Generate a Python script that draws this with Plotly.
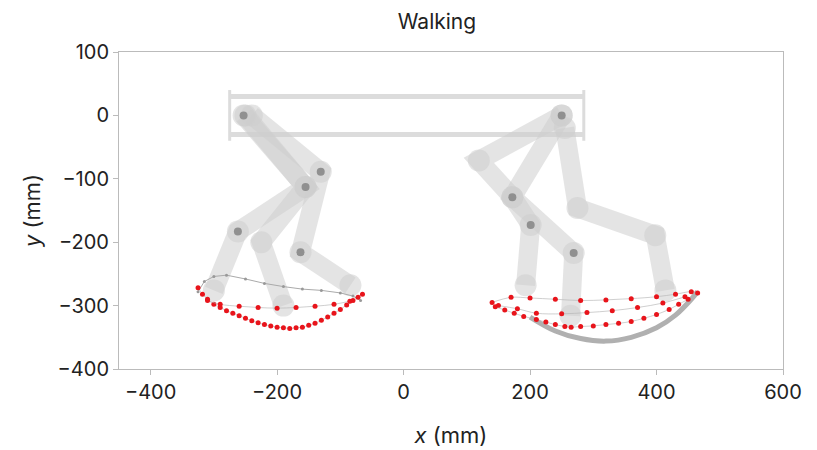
import plotly.graph_objects as go

# frame (body) outline
frame_top_x = [-275, 285]; frame_top_y = [30, 30]
frame_bot_x = [-275, 285]; frame_bot_y = [-30, -30]

# leg poses: lists of joint coordinates (mm)
left_legs = [
    ([-253, -155, -262, -300], [0, -113, -183, -276]),
    ([-240, -131, -163, -84], [0, -89, -216, -268]),
    ([-250, -155, -225, -190], [0, -113, -200, -300]),
]
right_legs = [
    ([250, 119, 172, 201, 193], [0, -71, -129, -173, -268]),
    ([250, 172, 269, 264], [0, -129, -217, -316]),
    ([255, 275, 398, 414], [-20, -146, -189, -276]),
]
joints_x = [-253, -155, -262, -131, -163, 250, 172, 201, 269]
joints_y = [0, -113, -183, -89, -216, 0, -129, -173, -217]

# foot trajectories
lg_x = [-325, -315, -300, -280, -250, -220, -190, -160, -130, -100, -80, -68]
lg_y = [-278, -262, -254, -252, -258, -265, -270, -274, -276, -280, -285, -292]
lr_x = [-325, -318, -310, -300, -290, -280, -270, -260, -250, -240, -230, -220, -210, -200, -190, -180, -170, -160, -150, -140, -130, -120, -110, -100, -90, -80, -72, -65]
lr_y = [-272, -282, -290, -298, -303, -308, -312, -316, -320, -324, -327, -330, -332, -334, -335, -336, -335, -334, -331, -328, -323, -318, -312, -306, -299, -292, -287, -282]
lr2_x = [-310, -290, -260, -230, -200, -170, -140, -110, -85]
lr2_y = [-292, -298, -301, -303, -304, -303, -301, -298, -293]
rg_x = [200, 240, 280, 320, 360, 400, 430, 455, 465]
rg_y = [-318, -340, -352, -356, -350, -335, -315, -290, -278]
rr1_x = [140, 170, 200, 240, 280, 320, 360, 400, 430, 455, 465]
rr1_y = [-295, -287, -288, -290, -292, -291, -289, -286, -282, -278, -280]
rr2_x = [150, 180, 210, 250, 290, 330, 370, 410, 445]
rr2_y = [-300, -305, -312, -313, -311, -308, -303, -296, -286]
rr3_x = [145, 160, 175, 190, 210, 225, 240, 255, 265, 280, 300, 320, 340, 360, 380, 400, 420, 435, 450]
rr3_y = [-302, -307, -312, -317, -322, -326, -330, -333, -334, -333, -332, -330, -328, -325, -320, -314, -306, -298, -290]

fig = go.Figure()
grey = "rgba(205,205,205,0.55)"
for xs, ys in [(frame_top_x, frame_top_y), (frame_bot_x, frame_bot_y)]:
    fig.add_trace(go.Scatter(x=xs, y=ys, mode="lines", line=dict(color="#dcdcdc", width=5)))
fig.add_trace(go.Scatter(x=[-275, -275, None, 285, 285], y=[40, -40, None, 40, -40], mode="lines",
                         line=dict(color="#dcdcdc", width=3)))
for xs, ys in left_legs + right_legs:
    fig.add_trace(go.Scatter(x=xs, y=ys, mode="lines+markers", line=dict(color=grey, width=19),
                             marker=dict(size=22, color=grey)))
fig.add_trace(go.Scatter(x=joints_x, y=joints_y, mode="markers", marker=dict(size=8, color="#909090")))
fig.add_trace(go.Scatter(x=lg_x, y=lg_y, mode="lines+markers", line=dict(color="#aaaaaa", width=1),
                         marker=dict(size=3, color="#999999")))
fig.add_trace(go.Scatter(x=rg_x, y=rg_y, mode="lines", line=dict(color="#b0b0b0", width=5, shape="spline")))
for xs, ys in [(lr_x, lr_y), (lr2_x, lr2_y), (rr1_x, rr1_y), (rr2_x, rr2_y), (rr3_x, rr3_y)]:
    fig.add_trace(go.Scatter(x=xs, y=ys, mode="lines+markers", line=dict(color="rgba(180,180,180,0.8)", width=0.8, shape="spline"),
                             marker=dict(size=5, color="#e8141b")))

ax = dict(showgrid=False, zeroline=False, showline=True, mirror=True, linecolor="#bbbbbb",
          ticks="outside", tickcolor="#bbbbbb", tickfont=dict(size=20, color="#222"))
fig.update_layout(
    width=817, height=450, showlegend=False, plot_bgcolor="white", paper_bgcolor="white",
    font=dict(family="Inter", color="#222"),
    title=dict(text="Walking", x=0.525, y=0.985, font=dict(size=21)),
    margin=dict(l=111, r=42, t=44, b=89),
    xaxis=dict(range=[-450, 600], tickvals=[-400, -200, 0, 200, 400, 600],
               ticktext=["−400", "−200", "0", "200", "400", "600"],
               title=dict(text="<i>x</i> (mm)", font=dict(size=22), standoff=24), **ax),
    yaxis=dict(range=[-400, 100], tickvals=[-400, -300, -200, -100, 0, 100],
               ticktext=["−400", "−300", "−200", "−100", "0", "100"],
               title=dict(text="<i>y</i> (mm)", font=dict(size=22), standoff=10), **ax),
)
fig.write_html("out.html")
